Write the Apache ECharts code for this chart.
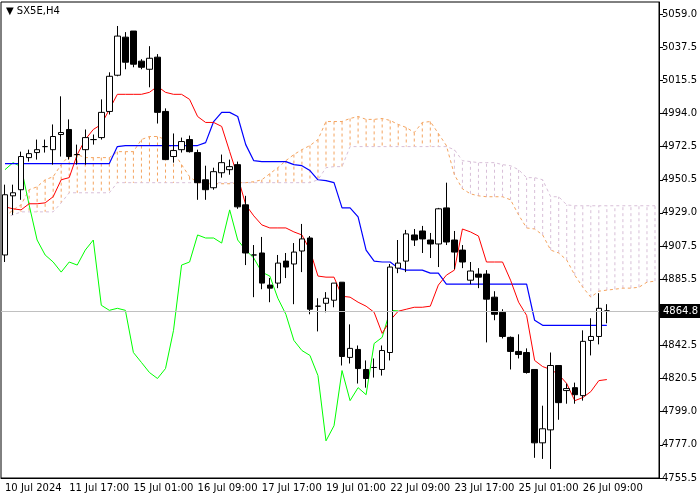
<!DOCTYPE html>
<html>
<head>
<meta charset="utf-8">
<script src="https://cdn.jsdelivr.net/npm/echarts@6/dist/echarts.min.js"></script>
<style>html,body{margin:0;padding:0;background:#fff}#main{width:700px;height:500px}</style>
</head>
<body>
<div id="main"></div>
<script>
// H4 candles: [open, close, low, high]
var candles = [
[4901.4,4940.8,4896.8,4947.4],[4940.1,4942.1,4927.6,4947.4],[4944.1,4965.8,4937.5,4969.0],[4965.1,4967.7,4962.5,4970.3],
[4968.4,4970.3,4963.8,4976.9],[4972.3,4972.3,4968.4,4976.9],[4970.3,4978.9,4960.5,4986.8],[4980.2,4981.5,4965.8,5005.2],
[4983.5,4965.8,4963.8,4990.1],[4967.1,4967.1,4960.5,4973.6],[4970.3,4978.2,4960.5,4983.5],[4976.9,4976.9,4973.6,4980.2],
[4978.2,4994.7,4976.9,5003.2],[4995.3,5018.3,4993.3,5020.9],[5019.0,5044.6,5018.3,5051.2],[5043.9,5027.5,5022.9,5047.2],
[5047.9,5026.2,5024.2,5047.9],[5028.2,5024.2,5022.9,5029.5],[5022.9,5030.1,5011.1,5038.0],[5030.8,4994.7,4987.4,5032.8],
[4995.3,4963.8,4963.8,4997.3],[4965.8,4969.7,4961.8,4980.9],[4970.3,4975.6,4968.4,4978.2],[4976.9,4969.0,4968.4,4979.5],
[4968.4,4948.7,4937.5,4970.3],[4950.6,4944.1,4937.5,4959.8],[4945.4,4955.9,4944.1,4958.5],[4955.2,4961.8,4952.0,4967.1],
[4957.2,4959.2,4953.9,4963.8],[4960.5,4932.9,4931.6,4962.5],[4934.2,4902.7,4894.8,4940.1],[4901.4,4901.4,4873.8,4907.9],
[4902.7,4883.0,4879.0,4913.2],[4881.7,4879.7,4870.5,4886.3],[4883.0,4896.1,4879.7,4901.4],[4897.4,4893.5,4886.3,4902.7],
[4895.5,4903.3,4869.2,4909.2],[4904.0,4911.9,4890.2,4921.7],[4912.5,4865.9,4862.6,4913.8],[4867.9,4867.9,4851.4,4873.1],
[4869.8,4873.1,4863.9,4877.1],[4871.8,4883.0,4867.2,4883.0],[4883.6,4835.0,4829.1,4883.6],[4834.4,4840.3,4830.4,4856.0],
[4839.6,4827.1,4817.3,4842.2],[4826.5,4820.6,4814.6,4832.4],[4827.8,4827.8,4821.2,4833.7],[4826.5,4838.9,4822.5,4842.2],
[4837.6,4893.5,4832.4,4895.5],[4892.8,4896.1,4889.5,4911.2],[4897.4,4915.2,4890.2,4917.8],[4914.5,4911.2,4907.3,4918.4],
[4917.1,4911.9,4902.7,4920.4],[4911.2,4908.6,4899.4,4915.8],[4908.6,4931.6,4893.5,4932.2],[4932.2,4909.9,4907.9,4948.7],
[4911.2,4903.3,4892.2,4917.1],[4904.6,4896.8,4892.8,4907.9],[4884.9,4890.9,4882.3,4896.8],[4888.9,4886.9,4879.7,4892.8],
[4888.9,4872.5,4844.2,4891.5],[4873.8,4862.6,4858.7,4877.7],[4863.9,4848.1,4846.8,4865.9],[4847.5,4838.3,4826.5,4848.1],
[4838.3,4836.3,4833.7,4849.5],[4837.6,4824.5,4823.8,4840.3],[4826.5,4778.5,4768.7,4826.5],[4778.5,4787.7,4768.0,4802.8],
[4787.0,4829.1,4761.4,4837.6],[4829.1,4804.8,4793.6,4829.1],[4812.7,4814.0,4804.1,4817.3],[4814.6,4810.0,4804.1,4817.9],
[4809.4,4844.9,4806.1,4852.1],[4845.5,4848.1,4835.7,4860.0],[4848.1,4866.5,4842.9,4876.4],[4864.8,4864.8,4856.7,4869.2]
];
var tenkan = [4932.9,4931.6,4930.9,4934.9,4934.9,4935.5,4939.5,4950.6,4952.0,4967.1,4976.9,4983.5,4986.8,4996.6,
5006.5,5006.5,5006.5,5006.5,5007.8,5011.7,5007.8,5006.5,5006.5,5003.2,4992.0,4988.1,4988.1,4985.5,4969.0,4952.6,
4934.2,4927.0,4921.1,4919.1,4919.1,4919.1,4916.5,4914.5,4904.6,4887.6,4886.9,4886.9,4874.4,4873.8,4870.5,4867.9,
4863.9,4850.1,4858.7,4864.6,4865.9,4867.2,4867.2,4867.9,4881.7,4888.2,4891.5,4918.4,4916.5,4913.8,4896.8,4896.8,
4896.8,4884.9,4870.5,4861.9,4832.4,4828.4,4826.5,4823.2,4817.3,4806.1,4808.1,4812.0,4819.2,4819.9];
var kijun = [4961.2,4961.2,4961.2,4961.2,4961.2,4961.2,4961.2,4961.2,4961.2,4961.2,4961.2,4961.2,4961.2,4961.2,
4972.3,4973.0,4973.0,4973.0,4973.0,4973.0,4973.0,4973.0,4973.0,4973.0,4973.0,4974.9,4988.7,4994.7,4994.7,4992.0,
4973.6,4963.1,4962.5,4962.5,4962.5,4962.5,4960.5,4959.8,4956.6,4950.6,4950.0,4948.7,4932.2,4932.2,4926.3,4904.6,
4897.4,4896.8,4896.8,4892.8,4891.5,4891.5,4891.5,4889.5,4889.5,4882.3,4882.3,4882.3,4882.3,4882.3,4882.3,4882.3,
4882.3,4882.3,4882.3,4882.3,4858.7,4855.4,4855.4,4855.4,4855.4,4855.4,4855.4,4855.4,4855.4,4855.4];
var chikou = [4957.2,4961.8,4959.2,4934.2,4911.2,4901.4,4896.8,4890.2,4896.8,4894.8,4904.6,4911.2,4868.5,4865.2,
4866.5,4865.2,4837.6,4831.1,4824.5,4820.6,4827.1,4852.1,4894.8,4896.8,4914.5,4912.5,4912.5,4909.2,4930.9,4911.2,
4904.6,4899.4,4890.2,4887.6,4873.1,4862.6,4845.5,4838.9,4835.7,4822.5,4779.8,4789.7,4825.8,4806.1,4814.6,4810.0,
4843.5,4847.5,4865.2,4864.8];
var spanA = [4926.3,4930.9,4934.2,4944.1,4946.0,4950.6,4952.6,4960.5,4966.4,4967.1,4965.1,4965.1,4965.1,4965.1,
4969.0,4969.0,4969.0,4976.9,4978.9,4978.9,4976.9,4969.0,4960.5,4952.6,4948.7,4948.0,4948.0,4948.0,4948.0,4948.7,
4948.7,4949.3,4950.6,4954.6,4958.5,4963.1,4967.1,4970.3,4973.0,4976.9,4988.7,4988.7,4988.7,4990.7,4992.0,4990.1,
4990.1,4990.7,4989.4,4986.8,4984.8,4981.5,4988.1,4988.7,4980.9,4973.0,4953.9,4944.7,4941.4,4940.1,4939.5,4939.5,
4939.5,4937.5,4927.6,4919.1,4918.4,4914.5,4904.6,4902.7,4898.1,4888.2,4880.3,4873.8,4877.7,4878.4,4879.0,4879.7,
4879.7,4880.3,4883.6,4884.3];
var spanB = [4925.7,4927.6,4929.6,4929.6,4929.6,4929.6,4929.6,4935.5,4942.1,4942.1,4942.1,4942.1,4942.1,4942.1,
4948.7,4948.7,4948.7,4948.7,4948.7,4948.7,4948.7,4948.7,4948.7,4948.7,4948.7,4948.7,4948.7,4948.7,4948.7,4948.7,
4948.7,4948.7,4948.7,4948.7,4948.7,4948.7,4948.7,4948.7,4948.7,4950.6,4958.5,4959.2,4959.2,4972.3,4972.3,4972.3,
4972.3,4972.3,4972.3,4972.3,4972.3,4972.3,4972.3,4972.3,4972.3,4972.3,4970.3,4963.1,4962.5,4961.8,4961.8,4961.8,
4960.5,4959.8,4957.2,4952.0,4952.0,4950.6,4939.5,4939.5,4934.2,4933.6,4933.6,4933.6,4933.6,4933.6,4933.6,4933.6,
4933.6,4933.6,4933.6,4933.6];
var timeLabels = ['10 Jul 2024','11 Jul 17:00','15 Jul 01:00','16 Jul 09:00','17 Jul 17:00',
  '19 Jul 01:00','22 Jul 09:00','23 Jul 17:00','25 Jul 01:00','26 Jul 09:00'];
var priceLabels = ['4755.5','4777.0','4799.0','4820.5','4842.5','','4885.5','4907.5','4929.0',
  '4950.5','4972.5','4994.0','5015.5','5037.5','5059.0'];
var lastPrice = 4864.8;

var cats = [];
for (var i = 0; i < spanA.length; i++) cats.push(String(i));
var cloud = [];
for (var i = 0; i < spanA.length; i++) cloud.push([i, spanA[i], spanB[i]]);

var font = 'DejaVu Sans';
var chart = echarts.init(document.getElementById('main'));
chart.setOption({
    animation: false,
    backgroundColor: '#fff',
    grid: { left: 1, right: 38, top: 2, bottom: 22, show: true, borderColor: '#000', borderWidth: 1 },
    graphic: [{ type: 'text', left: 6, top: 6, style: { text: '\u25BC SX5E,H4', fontSize: 10, fontFamily: font, fill: '#000' } }],
    xAxis: {
        type: 'category', data: cats, boundaryGap: true,
        axisLine: { lineStyle: { color: '#000' } },
        axisTick: { interval: 7, length: 4, lineStyle: { color: '#000' } },
        axisLabel: { interval: 7, align: 'left', margin: 5, fontSize: 10, fontFamily: font, color: '#000',
            formatter: function (v, idx) { return timeLabels[idx / 8] || ''; } },
        splitLine: { show: false }
    },
    yAxis: {
        type: 'value', position: 'right', scale: true,
        min: 4755.5, max: 5066.9, interval: (5059 - 4755.5) / 14,
        axisLine: { show: true, lineStyle: { color: '#000' } },
        axisTick: { show: true, length: 4, lineStyle: { color: '#000' } },
        axisLabel: { showMaxLabel: false, margin: 3, fontSize: 10, fontFamily: font, color: '#000',
            formatter: function (v) { var k = Math.round((v - 4755.5) / ((5059 - 4755.5) / 14)); return priceLabels[k] || ''; } },
        splitLine: { show: false }
    },
    series: [
        {
            type: 'custom', data: cloud, z: 1,
            renderItem: function (params, api) {
                var a = api.coord([api.value(0), api.value(1)]);
                var b = api.coord([api.value(0), api.value(2)]);
                return { type: 'line', shape: { x1: a[0], y1: a[1], x2: b[0], y2: b[1] },
                    style: { stroke: api.value(1) >= api.value(2) ? '#f4a460' : '#d8bfd8', lineWidth: 1, lineDash: [3, 3] } };
            }
        },
        { type: 'line', data: spanA, symbol: 'none', z: 2, lineStyle: { color: '#f4a460', width: 1, type: [3, 3] } },
        { type: 'line', data: spanB, symbol: 'none', z: 2, lineStyle: { color: '#d8bfd8', width: 1, type: [3, 3] } },
        { type: 'line', data: chikou, symbol: 'none', z: 3, lineStyle: { color: '#00ff00', width: 1 } },
        { type: 'line', data: kijun, symbol: 'none', z: 3, lineStyle: { color: '#0000ff', width: 1.2 } },
        { type: 'line', data: tenkan, symbol: 'none', z: 3, lineStyle: { color: '#ff0000', width: 1 } },
        {
            type: 'candlestick', data: candles, barWidth: 6, z: 4,
            itemStyle: { color: '#fff', color0: '#000', borderColor: '#000', borderColor0: '#000', borderWidth: 1 },
            markLine: {
                silent: true, symbol: 'none', animation: false,
                lineStyle: { color: '#c0c0c0', width: 1, type: 'solid' },
                label: { position: 'end', distance: 1, formatter: String(lastPrice), backgroundColor: '#000',
                    color: '#fff', fontSize: 10, fontFamily: font, padding: [2, 3] },
                data: [{ yAxis: lastPrice }]
            }
        }
    ]
});
</script>
</body>
</html>
